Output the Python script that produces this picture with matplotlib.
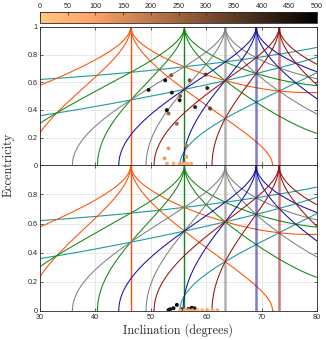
import matplotlib
matplotlib.use('Agg')
import matplotlib.pyplot as plt
import numpy as np

# resonance families 2*w_dot + m*Omega_dot (J2 dominated)
orders = [2, 1, 0, -1, -2]
family_colors = ['#ff4d00', '#118811', '#808080', '#1010a8', '#990f0f']
vline_width = [1.0, 1.0, 1.8, 1.8, 1.8]
vline_alpha = [1.0, 1.0, 0.6, 0.55, 0.55]
# forcing frequencies (units of J2 rate)
freqs = [2.28, 4.57]
teal_freqs = [1.14, 2.28, 4.57]
teal_color = '#1e9b9b'

# satellites, upper panel: inclination, eccentricity, colour value
top_incl = [49.6, 52.6, 53.7, 57.0, 59.9, 53.8, 55.3, 55.2, 60.2, 52.9, 53.2, 58.0, 60.7,
            54.7, 56.4, 53.2, 52.5, 56.4, 52.9, 54.1, 55.2, 55.6, 56.1, 56.6, 57.3]
top_ecc = [0.544, 0.614, 0.65, 0.614, 0.655, 0.525, 0.50, 0.47, 0.558, 0.398, 0.374, 0.42, 0.41,
           0.30, 0.145, 0.122, 0.05, 0.062, 0.013, 0.013, 0.01, 0.01, 0.01, 0.012, 0.012]
top_val = [460, 470, 290, 300, 360, 430, 290, 460, 420, 490, 260, 420, 340,
           230, 190, 120, 110, 100, 80, 60, 90, 70, 60, 80, 70]

# satellites, lower panel
bot_incl = [53.2, 53.5, 54.1, 54.7, 55.6, 56.8, 57.4, 57.9,
            55.3, 56.1, 56.8, 57.5, 58.4, 59.3, 60.2, 61.1, 62.0]
bot_ecc = [0.005, 0.01, 0.017, 0.04, 0.01, 0.012, 0.02, 0.017,
           0.003, 0.003, 0.003, 0.003, 0.003, 0.003, 0.003, 0.003, 0.003]
bot_val = [470, 450, 480, 490, 420, 440, 480, 430,
           70, 60, 80, 90, 60, 70, 80, 60, 70]


def crit_incl(m):
    c = (m + np.sqrt(m * m + 20)) / 10
    return np.degrees(np.arccos(c))


def family_curve(m, d, side):
    ic = crit_incl(m)
    i = np.sort(np.append(np.linspace(30, 80, 20001), ic))
    c = np.cos(np.radians(i))
    g = 10 * c ** 2 - 2 - 2 * m * c
    r = np.abs(g) / d
    if side == 'left':
        mask = (i <= ic) & (r <= 1.002)
    else:
        mask = (i >= ic) & (r <= 1.002)
    e = np.sqrt(1 - np.sqrt(np.minimum(r, 1)))
    return i[mask], e[mask]


def teal_curve(d):
    i = np.linspace(30, 80, 20001)
    r = 2 * np.cos(np.radians(i)) / d
    mask = r <= 1.002
    e = np.sqrt(1 - np.sqrt(np.minimum(r, 1)))
    return i[mask], e[mask]


fig = plt.figure(figsize=(3.26, 3.40), dpi=100)
ax1 = fig.add_axes([40/326, 1-165.3/340, 277/326, 138.5/340])
ax2 = fig.add_axes([40/326, 1-310.7/340, 277/326, 145.3/340])
cax = fig.add_axes([40/326, 1-23.3/340, 277/326, 11/340])

cmap = plt.get_cmap('copper_r')

for ax, xs, ys, vs in [(ax1, top_incl, top_ecc, top_val), (ax2, bot_incl, bot_ecc, bot_val)]:
    for d in teal_freqs:
        x, y = teal_curve(d)
        ax.plot(x, y, color=teal_color, lw=0.8)
    for k, m in enumerate(orders):
        for d in freqs:
            for side in ['left', 'right']:
                x, y = family_curve(m, d, side)
                ax.plot(x, y, color=family_colors[k], lw=0.75)
        ax.axvline(crit_incl(m), color=family_colors[k], lw=vline_width[k], alpha=vline_alpha[k])
    sc = ax.scatter(xs, ys, c=vs, cmap=cmap, vmin=0, vmax=500, s=8, linewidths=0, zorder=5)
    ax.set_xlim(30, 80)
    ax.set_ylim(0, 1)
    ax.set_xticks([30, 40, 50, 60, 70, 80])
    ax.set_yticks([0, 0.2, 0.4, 0.6, 0.8, 1])
    ax.grid(True, color='#dedede', lw=0.5)
    ax.set_axisbelow(True)
    ax.tick_params(direction='in', length=2.5, width=0.5, top=True, right=True,
                   labelsize=5.2, colors='#262626', pad=1.5)
    ax.tick_params(axis='x', pad=2.4)
    for s in ax.spines.values():
        s.set_color('#262626')
        s.set_linewidth(0.6)
    for lab in ax.get_xticklabels() + ax.get_yticklabels():
        lab.set_family('Liberation Sans')

ax1.set_yticklabels(['0', '0.2', '0.4', '0.6', '0.8', '1'])
ax1.set_xticklabels([])
ax2.set_yticklabels(['0', '0.2', '0.4', '0.6', '0.8', ''])
ax2.set_xticklabels(['30', '40', '50', '60', '70', '80'])

cb = fig.colorbar(sc, cax=cax, orientation='horizontal')
cb.set_ticks(np.arange(0, 501, 50))
cax.xaxis.set_ticks_position('top')
cax.tick_params(direction='in', length=2.5, width=0.5, labelsize=5.2, colors='#262626', pad=1.5)
for lab in cax.get_xticklabels():
    lab.set_family('Liberation Sans')
cb.outline.set_linewidth(0.6)
cb.outline.set_edgecolor('#262626')

fig.text(9/326, 1-165/340, 'Eccentricity', rotation=90, ha='center', va='center',
         fontsize=8.8, family='cmr10', color='#262626')
fig.text(178/326, 1-330/340, 'Inclination (degrees)', ha='center', va='center',
         fontsize=8.8, family='cmr10', color='#262626')

fig.savefig('out.png', dpi=100)
